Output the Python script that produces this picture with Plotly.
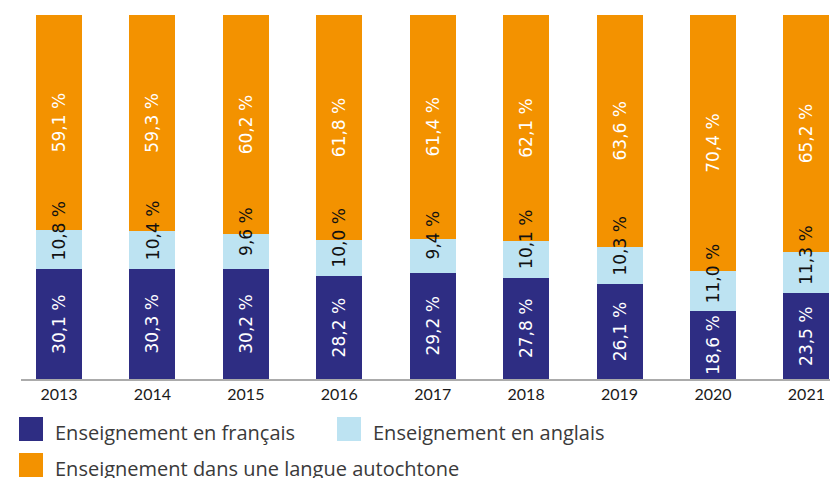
import plotly.graph_objects as go

years = ["2013", "2014", "2015", "2016", "2017", "2018", "2019", "2020", "2021"]
francais = [30.1, 30.3, 30.2, 28.2, 29.2, 27.8, 26.1, 18.6, 23.5]
anglais = [10.8, 10.4, 9.6, 10.0, 9.4, 10.1, 10.3, 11.0, 11.3]
autochtone = [59.1, 59.3, 60.2, 61.8, 61.4, 62.1, 63.6, 70.4, 65.2]

series_names = ["Enseignement en français", "Enseignement en anglais",
                "Enseignement dans une langue autochtone"]
colors = ["#2E2D83", "#BDE3F2", "#F39200"]


def fmt(v):
    return f"{v:.1f}".replace(".", ",") + " %"


W, H = 830, 478
ML, MR, MT, MB = 21, 0, 15, 99
PW, PH = W - ML - MR, H - MT - MB
LBL = 17

fig = go.Figure()
specs = [
    (francais, colors[0], "white", True),
    (anglais, colors[1], "#111111", False),
    (autochtone, colors[2], "white", True),
]
for name, (vals, col, tcol, show_text) in zip(series_names, specs):
    fig.add_trace(go.Bar(
        x=years, y=vals, name=name, marker=dict(color=col, line=dict(width=0)),
        width=0.492, text=[fmt(v) for v in vals] if show_text else None,
        textposition="inside" if show_text else "none",
        insidetextanchor="middle", textangle=-90,
        textfont=dict(family="DejaVu Sans", size=LBL, color=tcol),
        hoverinfo="skip", showlegend=False,
    ))

# labels for the English segment (they overflow their segment, so drawn on top)
for i, (f, a) in enumerate(zip(francais, anglais)):
    fig.add_annotation(x=i, y=f, xref="x", yref="y", text=fmt(a),
                       showarrow=False, textangle=-90,
                       xanchor="center", yanchor="middle", yshift=38,
                       font=dict(family="DejaVu Sans", size=LBL, color="#111111"))

fig.update_layout(
    barmode="stack",
    width=W, height=H,
    margin=dict(l=ML, r=MR, t=MT, b=MB, pad=0),
    plot_bgcolor="white", paper_bgcolor="white",
    uniformtext=dict(minsize=LBL, mode="show"),
    showlegend=False,
    hovermode=False,
    xaxis=dict(
        type="category", range=[-0.4067, 8.2526], showgrid=False,
        showline=True, linecolor="#ABABAB", linewidth=1.5, ticks="",
        tickfont=dict(family="Lato", size=16, color="#1a1a1a"),
    ),
    yaxis=dict(range=[0, 100], visible=False, showgrid=False),
)


def px_to_paper(px, py):
    return (px - ML) / PW, (H - MB - py) / PH


legend_items = [
    (series_names[0], colors[0], 19, 417),
    (series_names[1], colors[1], 337, 417),
    (series_names[2], colors[2], 19, 453),
]
for name, col, sx, sy in legend_items:
    x0, y0 = px_to_paper(sx, sy + 24)
    x1, y1 = px_to_paper(sx + 24, sy)
    fig.add_shape(type="rect", xref="paper", yref="paper", x0=x0, x1=x1,
                  y0=y0, y1=y1, fillcolor=col, line=dict(width=0))
    tx, ty = px_to_paper(sx + 34, sy + 15)
    fig.add_annotation(xref="paper", yref="paper", x=tx, y=ty, text=name,
                       showarrow=False, xanchor="left", yanchor="middle",
                       font=dict(family="Open Sans", size=20, color="#3a3a3a"))

fig.write_html("out.html", config={"displayModeBar": False},
               post_script="document.body.style.margin='0';document.body.style.overflow='hidden';")
